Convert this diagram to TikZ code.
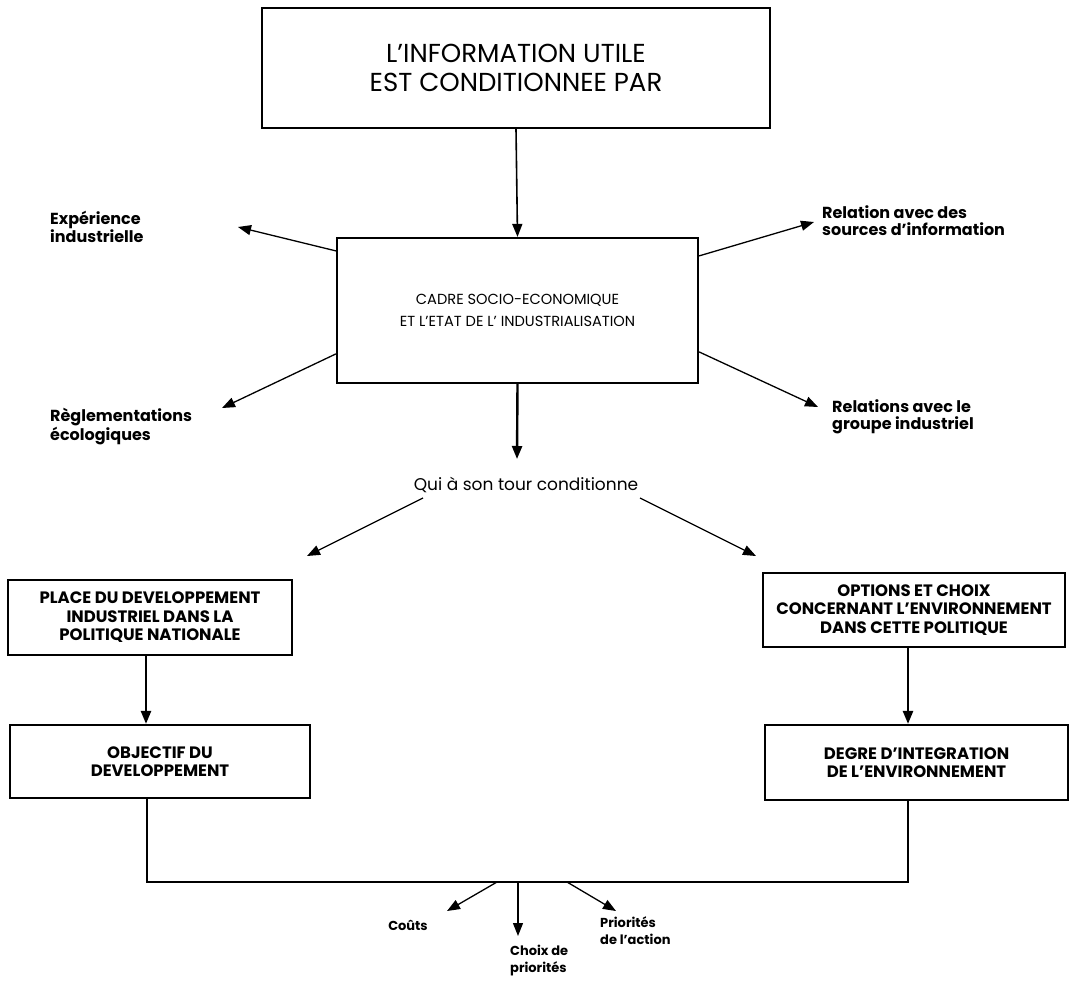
\documentclass[tikz,border=0pt]{standalone}
\usepackage{fontspec}
\setmainfont{Poppins}
\usetikzlibrary{arrows.meta,calc}
\begin{document}
\begin{tikzpicture}[x=1pt,y=-1pt,
  box/.style={draw, line width=2.2pt, inner sep=0pt, align=center},
  arr/.style={-{Triangle[length=13pt,width=10pt]}, line width=1.3pt},
  heavy/.style={-{Triangle[length=13pt,width=10pt]}, line width=2.4pt},
  lab/.style={font=\bfseries\fontsize{16}{17.5}\selectfont, align=left, inner sep=0pt},
  small lab/.style={font=\bfseries\fontsize{13}{17}\selectfont, align=left, inner sep=0pt},
  boxtxt/.style={font=\bfseries\fontsize{16.5}{18.5}\selectfont}]
\useasboundingbox[fill=white] (0,0) rectangle (1073,988);

% main boxes
\node[box, minimum width=508pt, minimum height=120pt,
      font=\fontsize{26}{29}\selectfont] (top) at (516,68)
  {L'INFORMATION UTILE\\EST CONDITIONNEE PAR};
\node[box, minimum width=361pt, minimum height=145pt,
      font=\fontsize{14.6}{22}\selectfont] (cadre) at (517.5,310.5)
  {CADRE SOCIO-ECONOMIQUE\\ET L'ETAT DE L' INDUSTRIALISATION};
\node[box, boxtxt, minimum width=284pt, minimum height=75pt] (place) at (150,617.5)
  {PLACE DU DEVELOPPEMENT\\INDUSTRIEL DANS LA\\POLITIQUE NATIONALE};
\node[box, boxtxt, minimum width=300pt, minimum height=73pt] (obj) at (160,761.5)
  {OBJECTIF DU\\DEVELOPPEMENT};
\node[box, boxtxt, minimum width=302pt, minimum height=74pt] (opt) at (914,610)
  {OPTIONS ET CHOIX\\CONCERNANT L'ENVIRONNEMENT\\DANS CETTE POLITIQUE};
\node[box, boxtxt, minimum width=303pt, minimum height=75pt] (deg) at (916.5,762.5)
  {DEGRE D'INTEGRATION\\DE L'ENVIRONNEMENT};

% side labels
\node[lab, anchor=north west] (exp) at (50,211) {Expérience\\industrielle};
\node[lab, anchor=north west] (reg) at (50,408) {Règlementations\\écologiques};
\node[lab, anchor=north west] (rel) at (822,205) {Relation avec des\\sources d'information};
\node[lab, anchor=north west] (grp) at (832,399) {Relations avec le\\groupe industriel};
\node[font=\fontsize{17}{20}\selectfont, inner sep=0pt] (qui) at (526,485) {Qui à son tour conditionne};

% bottom labels
\node[small lab] (couts) at (408,925) {Coûts};
\node[small lab, anchor=north west] (choix) at (510,945) {Choix de\\priorités};
\node[small lab, anchor=north west] (prio) at (600,916) {Priorités\\de l'action};

% free arrow ends
\coordinate (expT) at (238,227);
\coordinate (regT) at (222,408);
\coordinate (relT) at (814,222);
\coordinate (grpT) at (818,407);
\coordinate (quiT) at (517,459);
\coordinate (plT) at (307,556);
\coordinate (opT) at (756,556);
\coordinate (jL) at (147,882);
\coordinate (jR) at (908,882);
\coordinate (coT) at (447,911);
\coordinate (chT) at (518,936);
\coordinate (prT) at (616,911);

% connectors
\draw[arr, line width=1.6pt] (top.south) -- (cadre.north);
\draw[arr] ($(cadre.north west)+(0,14)$) -- (expT);
\draw[arr] ($(cadre.north west)+(0,117)$) -- (regT);
\draw[arr] ($(cadre.north east)+(0,19)$) -- (relT);
\draw[arr] ($(cadre.north east)+(0,115)$) -- (grpT);
\draw[heavy] (cadre.south) -- (quiT);
\draw[arr] (423,498) -- (plT);
\draw[arr] (640,498) -- (opT);
\draw[heavy] ($(place.south)+(-4,0)$) -- ($(obj.north)+(-14,0)$);
\draw[heavy] ($(opt.south)+(-6,0)$) -- ($(deg.north)+(-8.5,0)$);
\draw[line width=2.4pt] (obj.south -| jL) -- (jL) -- (jR) -- (deg.south -| jR);
\draw[arr] (497,882) -- (coT);
\draw[arr] (518,882) -- (chT);
\draw[arr] (567,882) -- (prT);
\end{tikzpicture}
\end{document}
